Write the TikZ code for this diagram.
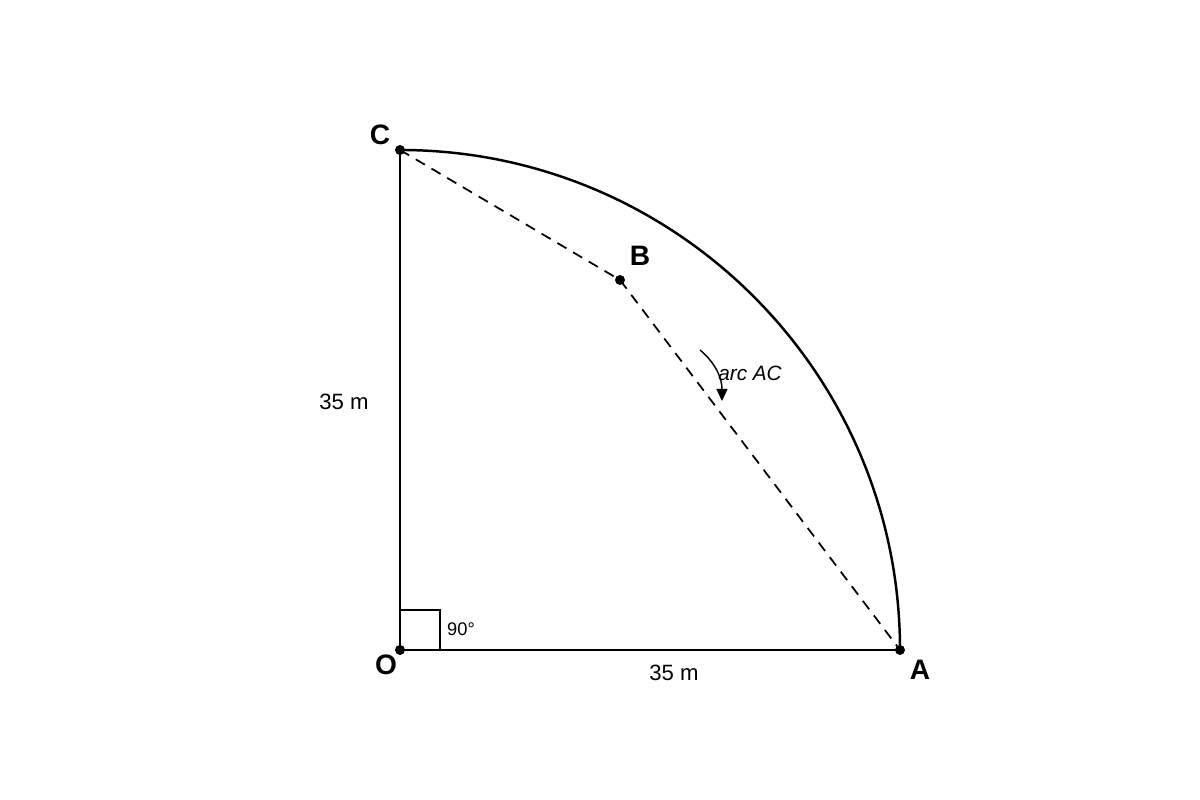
\documentclass[tikz,border=0pt]{standalone}
\usepackage{fontspec}
\setmainfont{Liberation Sans}
\usepackage{tikz}
\usetikzlibrary{arrows.meta}

\begin{document}
\begin{tikzpicture}[pt/.style = {circle, fill, inner sep=0, minimum size=1mm},
	lbl/.style = {font=\bfseries\fontsize{8}{9}\selectfont},
	dim/.style = {font=\fontsize{6.3}{7}\selectfont},
	side/.style = {line width=0.7pt}]
	\useasboundingbox (0, 0) rectangle (12, 8);
	\coordinate (O) at (4, 1.5);
	\coordinate (A) at (9, 1.5);
	\coordinate (C) at (4, 6.5);
	\coordinate (B) at (6.2, 5.2);
	\coordinate (R1) at (4.4, 1.5);
	\coordinate (R2) at (4.4, 1.9);
	\coordinate (R3) at (4, 1.9);
	\draw[side] (O) -- (A);
	\draw[side] (O) -- (C);
	\draw[side] (C) arc (90:0:5);
	\draw[line width=0.5pt, dash pattern=on 3pt off 2.2pt] (C) -- (B) -- (A);
	\draw[line width=0.45pt] (R3) -- (R2) -- (R1);
	\node[pt] (o) at (O){};
	\node[pt] (a) at (A){};
	\node[pt] (c) at (C){};
	\node[pt] (b) at (B){};
	\node[lbl] (lC) at (3.8, 6.65){C};
	\node[lbl] (lB) at (6.4, 5.44){B};
	\node[lbl] (lO) at (3.86, 1.35){O};
	\node[lbl] (lA) at (9.2, 1.3){A};
	\node[dim] (left) at (3.44, 3.98){35 m};
	\node[dim] (bottom) at (6.74, 1.27){35 m};
	\node[font=\fontsize{5.2}{6}\selectfont] (ang) at (4.61, 1.71){90°};
	\node[font=\itshape\fontsize{5.9}{7}\selectfont] (arcAC) at (7.5, 4.27){arc AC};
	\coordinate (s) at (7, 4.5);
	\coordinate (e) at (7.22, 3.99);
	\draw[-{Triangle[length=1.2mm, width=1.1mm]}, line width=0.4pt] (s) to[out=-40, in=90] (e);
\end{tikzpicture}
\end{document}
